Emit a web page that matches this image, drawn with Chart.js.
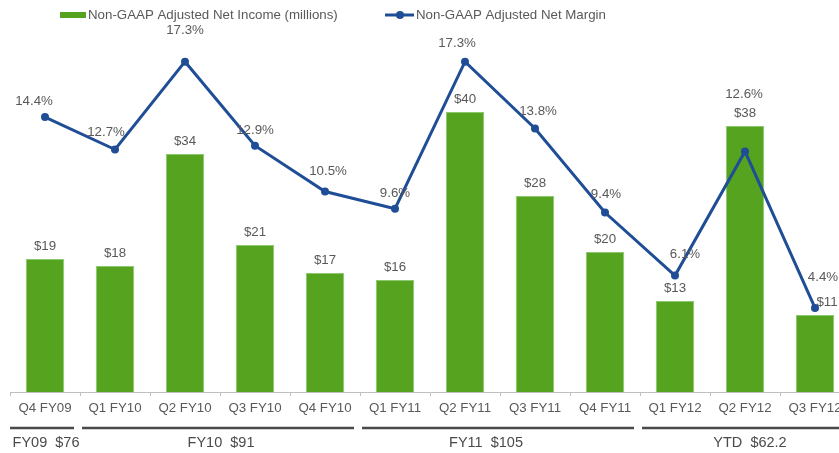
<!DOCTYPE html>
<html>
<head>
<meta charset="utf-8">
<script src="https://cdn.jsdelivr.net/npm/chart.js@4.4.1/dist/chart.umd.min.js"></script>
<style>
  html, body { margin: 0; padding: 0; background: #ffffff; overflow: hidden; }
  #wrap { position: relative; width: 850px; height: 453px; }
</style>
</head>
<body>
<div id="wrap"><canvas id="c"></canvas></div>
<script>
// ---- data ----
const categories = ['Q4 FY09','Q1 FY10','Q2 FY10','Q3 FY10','Q4 FY10','Q1 FY11','Q2 FY11','Q3 FY11','Q4 FY11','Q1 FY12','Q2 FY12','Q3 FY12'];
const netIncome = [19, 18, 34, 21, 17, 16, 40, 28, 20, 13, 38, 11];
const netMargin = [14.4, 12.7, 17.3, 12.9, 10.5, 9.6, 17.3, 13.8, 9.4, 6.1, 12.6, 4.4];
const seriesNames = ['Non-GAAP Adjusted Net Income (millions)', 'Non-GAAP Adjusted Net Margin'];
const fiscalGroupLabels = ['FY09  $76', 'FY10  $91', 'FY11  $105', 'YTD  $62.2'];
const fiscalGroupFirst = [0, 1, 5, 9];
const fiscalGroupLast = [0, 4, 8, 11];

// ---- styles ----
const GREEN = '#55A31F';
const BLUE = '#1F4E96';
const TEXT = '#595959';
const FONT = '"Liberation Sans", Arial, Helvetica, sans-serif';
// hand placement of margin labels relative to their points [dx, lift]
const marginLabelNudge = [[-11,16],[-9,17],[0,31],[0,15],[3,20],[0,15],[-8,18],[3,17],[1,18],[10,21],[-1,57],[8,31]];
const barLabelNudgeX = [0,0,0,0,0,0,0,0,0,0,0,12];
const groupLabelNudgeX = [1, 1, -14, 5];

const labelPlugin = {
  id: 'labels',
  afterDatasetsDraw(chart) {
    const ctx = chart.ctx;
    const barMeta = chart.getDatasetMeta(0);
    const lineMeta = chart.getDatasetMeta(1);
    ctx.save();
    ctx.fillStyle = TEXT;
    ctx.font = '13.3px ' + FONT;
    ctx.textAlign = 'center';
    ctx.textBaseline = 'middle';
    barMeta.data.forEach((bar, i) => {
      ctx.fillText('$' + netIncome[i], bar.x + barLabelNudgeX[i], bar.y - 13);
    });
    lineMeta.data.forEach((pt, i) => {
      const n = marginLabelNudge[i];
      ctx.fillText(netMargin[i].toFixed(1) + '%', pt.x + n[0], pt.y - n[1]);
    });
    ctx.restore();
  },
  afterDraw(chart) {
    const ctx = chart.ctx;
    const x = chart.scales.x;
    const cw = x.width / categories.length;
    ctx.save();
    // legend
    ctx.font = '13.3px ' + FONT;
    ctx.textBaseline = 'middle';
    ctx.textAlign = 'left';
    ctx.fillStyle = GREEN;
    ctx.fillRect(60, 12, 26, 6);
    ctx.fillStyle = TEXT;
    ctx.fillText(seriesNames[0], 88, 15);
    ctx.strokeStyle = BLUE;
    ctx.lineWidth = 3;
    ctx.beginPath(); ctx.moveTo(385, 15); ctx.lineTo(414, 15); ctx.stroke();
    ctx.fillStyle = BLUE;
    ctx.beginPath(); ctx.arc(400, 15, 4, 0, Math.PI * 2); ctx.fill();
    ctx.fillStyle = TEXT;
    ctx.fillText(seriesNames[1], 416, 15);
    // fiscal year groups
    ctx.strokeStyle = '#4a4a4a';
    ctx.lineWidth = 2.5;
    ctx.font = '14.5px ' + FONT;
    ctx.textAlign = 'center';
    ctx.fillStyle = '#4a4a4a';
    fiscalGroupLabels.forEach((lab, g) => {
      const left = x.getPixelForValue(fiscalGroupFirst[g]) - cw / 2;
      const right = x.getPixelForValue(fiscalGroupLast[g]) + cw / 2;
      ctx.beginPath();
      ctx.moveTo(left + (g === 0 ? 0 : 2), 428);
      ctx.lineTo(right - 6, 428);
      ctx.stroke();
      ctx.fillText(lab, (left + right) / 2 + groupLabelNudgeX[g], 443);
    });
    ctx.restore();
  }
};

new Chart(document.getElementById('c'), {
  data: {
    labels: categories,
    datasets: [
      {
        type: 'bar',
        label: seriesNames[0],
        data: netIncome,
        yAxisID: 'y',
        backgroundColor: GREEN,
        borderColor: '#8CC870',
        borderWidth: 1,
        barPercentage: 0.55,
        categoryPercentage: 1,
        order: 2
      },
      {
        type: 'line',
        label: seriesNames[1],
        data: netMargin,
        yAxisID: 'y1',
        borderColor: BLUE,
        backgroundColor: BLUE,
        borderWidth: 3,
        pointRadius: 4,
        pointBackgroundColor: BLUE,
        pointBorderWidth: 0,
        tension: 0,
        clip: false,
        order: 1
      }
    ]
  },
  options: {
    responsive: true,
    maintainAspectRatio: false,
    animation: false,
    layout: { autoPadding: false, padding: { left: 10, right: 0, top: 0, bottom: 0 } },
    plugins: { legend: { display: false }, tooltip: { enabled: false } },
    scales: {
      x: {
        type: 'category',
        offset: true,
        grid: { display: true, drawOnChartArea: false, drawTicks: true, tickLength: 4, color: '#BFBFBF', offset: true },
        border: { display: true, color: '#BFBFBF', width: 1 },
        ticks: { color: TEXT, font: { family: FONT, size: 13.3 }, padding: 4, maxRotation: 0, autoSkip: false },
        afterFit(scale) { scale.height = 61; }
      },
      y: { display: false, min: 0, max: 56 },
      y1: { display: false, min: 0, max: 20.53, position: 'right' }
    }
  },
  plugins: [labelPlugin]
});
</script>
</body>
</html>
